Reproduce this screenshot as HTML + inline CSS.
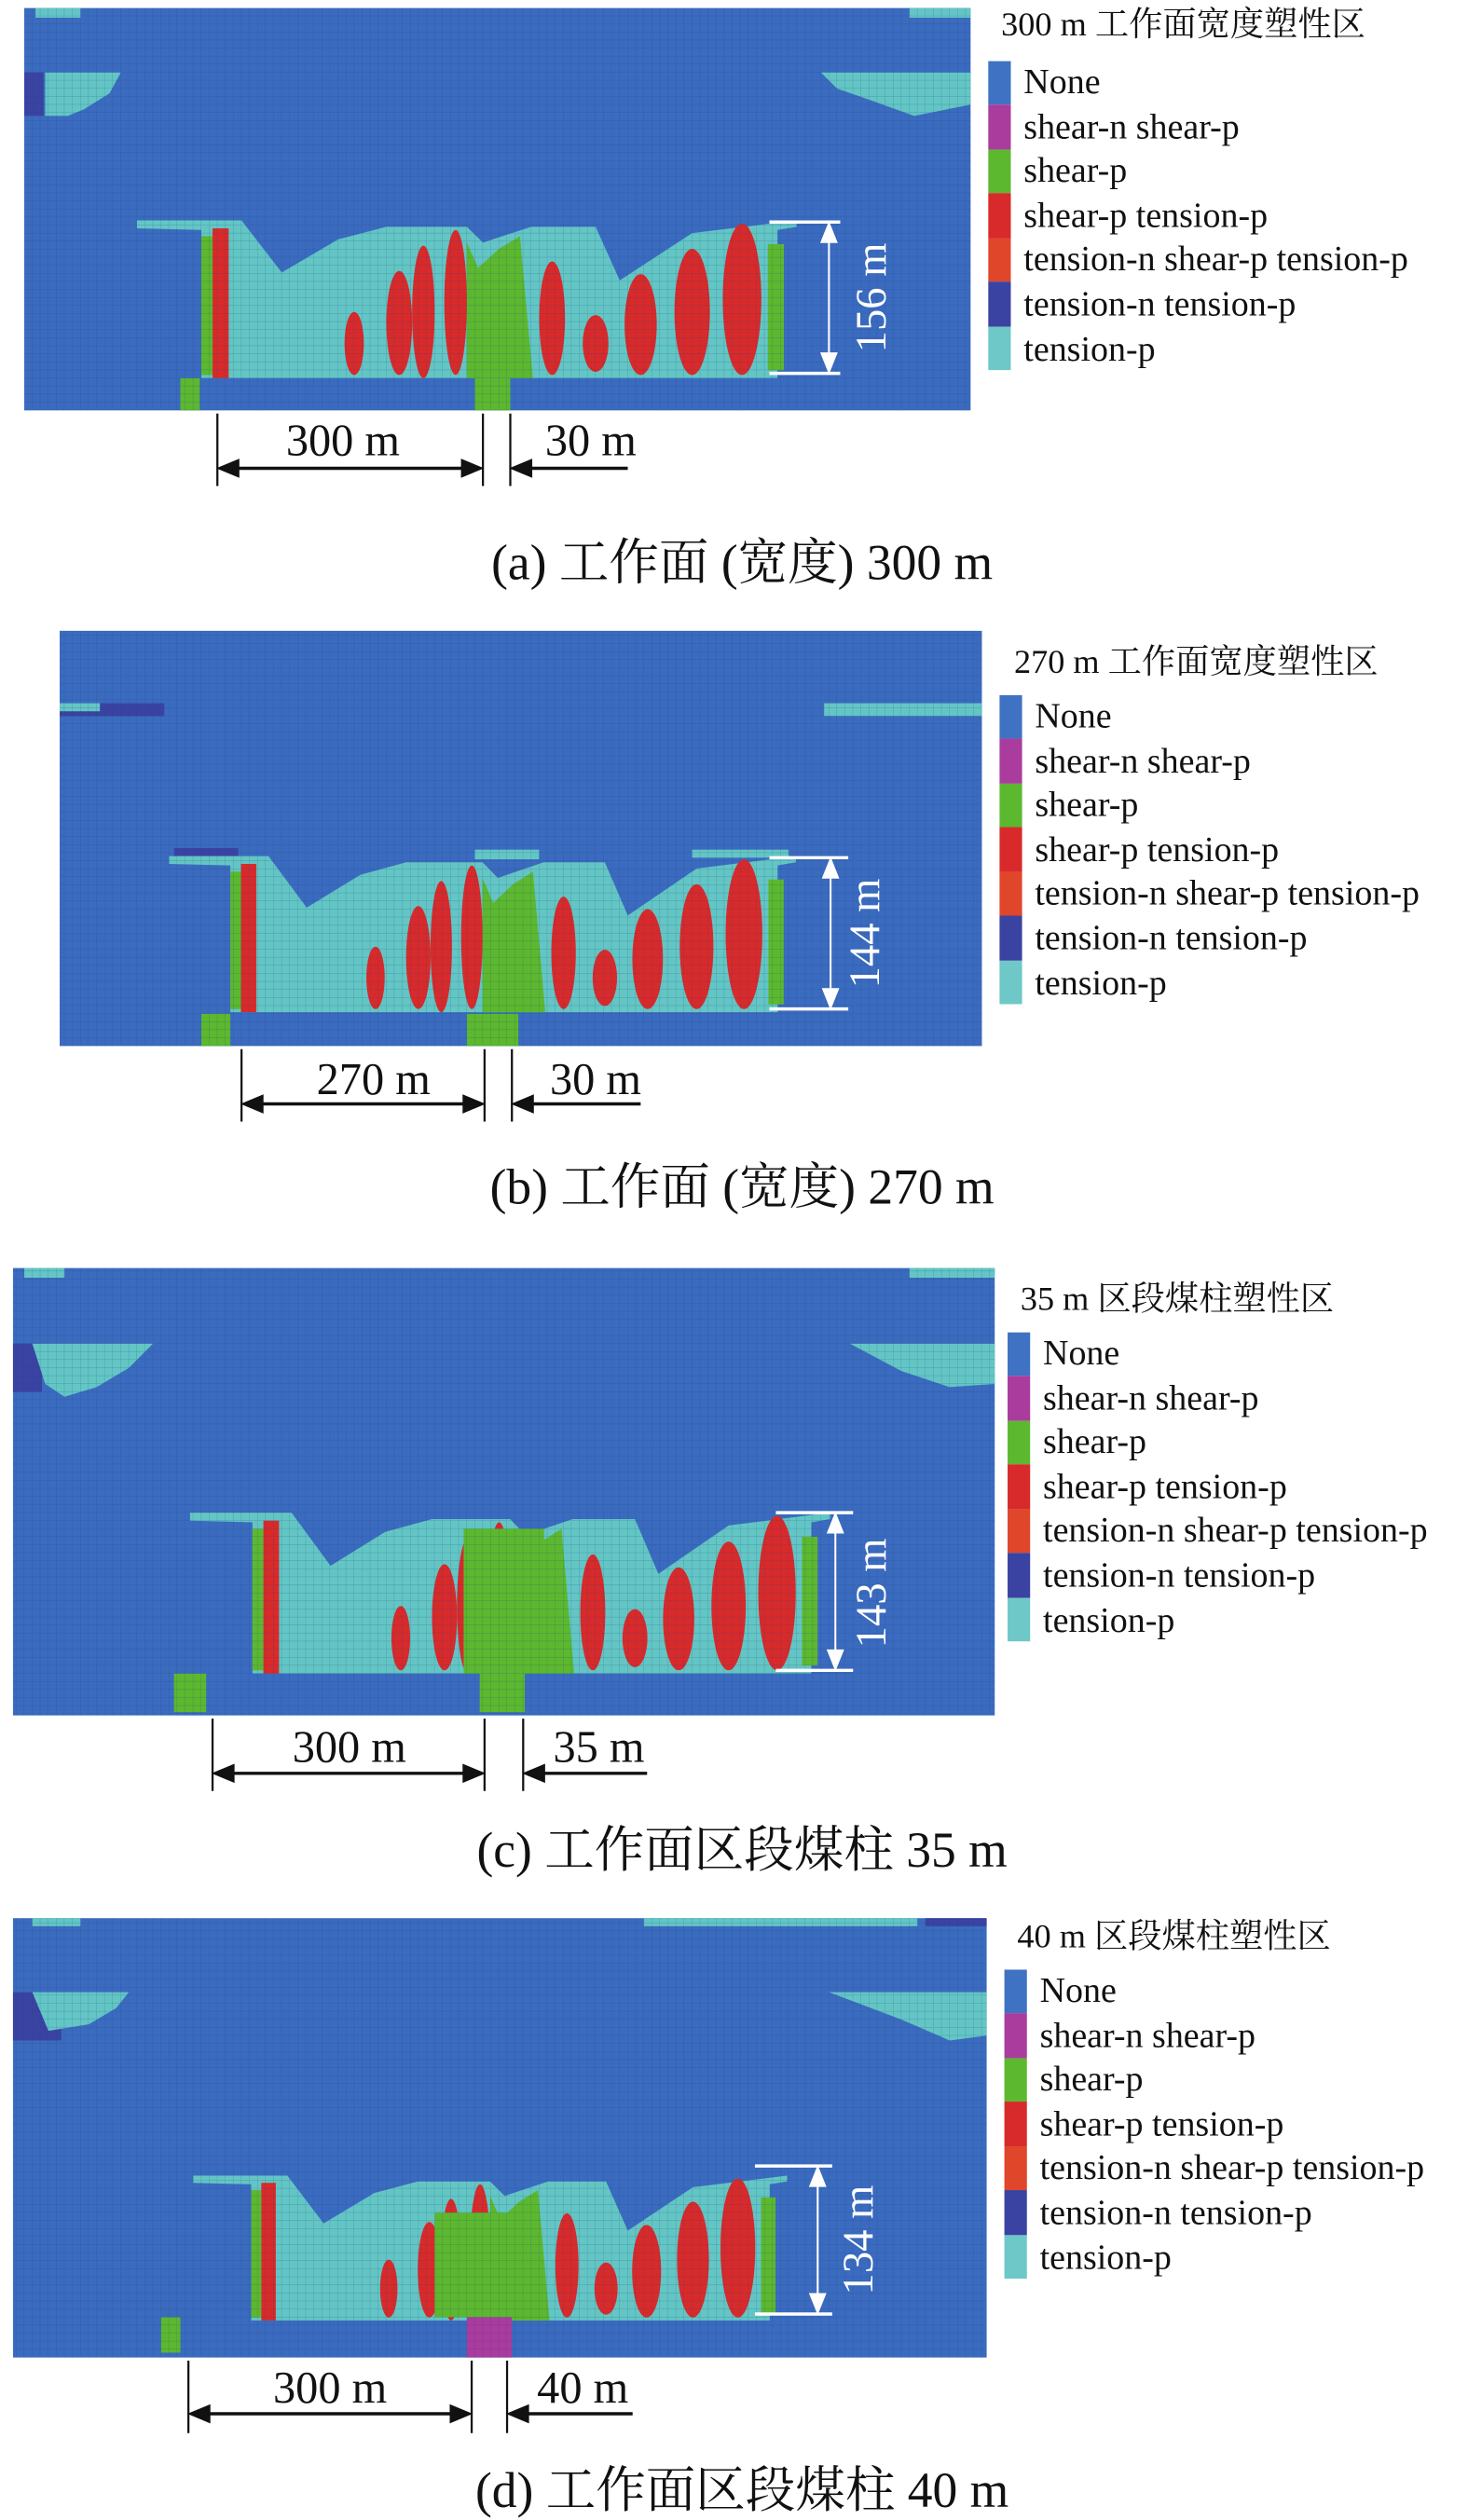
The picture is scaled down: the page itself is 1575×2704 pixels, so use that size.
<!DOCTYPE html>
<html><head><meta charset="utf-8"><style>
html,body{margin:0;padding:0;background:#fff;}
svg{display:block}
text{font-family:"Liberation Serif","Noto Serif CJK SC",serif;fill:#111}
</style></head><body>
<svg width="1575" height="2704" viewBox="0 0 912 1566" xmlns="http://www.w3.org/2000/svg">
<defs>
<pattern id="grid" width="5" height="5" patternUnits="userSpaceOnUse">
<path d="M5 0V5M0 5H5" stroke="#1e3f85" stroke-width="0.5" fill="none" opacity="0.35"/>
</pattern>
<g id="zone">
<polygon fill="#63c6c4" points="0,0 65,0 90,33 125,12 155,4 205,4 215,14 245,4 285,4 300,38 345,8 410,0 410,4 398,6 398,100 40,100 40,6 0,5"/>
<rect x="40" y="10" width="7" height="88" fill="#5cb82e"/>
<rect x="47" y="5" width="10" height="95" fill="#d82a2a"/>
<polygon fill="#5cb82e" points="205,14 212,30 225,18 238,10 246,100 205,100"/>
<ellipse cx="135" cy="78" rx="6" ry="20" fill="#d82a2a"/>
<ellipse cx="163" cy="65" rx="8" ry="33" fill="#d82a2a"/>
<ellipse cx="178" cy="58" rx="7" ry="42" fill="#d82a2a"/>
<ellipse cx="198" cy="52" rx="7" ry="46" fill="#d82a2a"/>
<ellipse cx="258" cy="62" rx="8" ry="36" fill="#d82a2a"/>
<ellipse cx="285" cy="78" rx="8" ry="18" fill="#d82a2a"/>
<ellipse cx="313" cy="66" rx="10" ry="32" fill="#d82a2a"/>
<ellipse cx="345" cy="58" rx="11" ry="40" fill="#d82a2a"/>
<ellipse cx="376" cy="50" rx="12" ry="48" fill="#d82a2a"/>
<rect x="392" y="15" width="10" height="80" fill="#5cb82e"/>
</g>
<g id="legend">
<rect x="0" y="0" width="14" height="27" fill="#3f72c2"/>
<rect x="0" y="27" width="14" height="28" fill="#aa3c9e"/>
<rect x="0" y="55" width="14" height="27" fill="#5cb82e"/>
<rect x="0" y="82" width="14" height="28" fill="#d82a2a"/>
<rect x="0" y="110" width="14" height="27" fill="#e0462a"/>
<rect x="0" y="137" width="14" height="28" fill="#3b43a2"/>
<rect x="0" y="165" width="14" height="27" fill="#6ec8c8"/>
<g font-size="22">
<text x="22" y="20">None</text>
<text x="22" y="48">shear-n shear-p</text>
<text x="22" y="75">shear-p</text>
<text x="22" y="103">shear-p tension-p</text>
<text x="22" y="130">tension-n shear-p tension-p</text>
<text x="22" y="158">tension-n tension-p</text>
<text x="22" y="186">tension-p</text>
</g>
</g>
</defs>

<!-- Panel a -->
<rect x="15" y="5" width="588" height="250" fill="#3a6bbf"/>
<rect x="22" y="5" width="28" height="6" fill="#63c6c4"/><rect x="565" y="5" width="38" height="6" fill="#63c6c4"/>
<rect x="15" y="45" width="12" height="27" fill="#3b43a2"/>
<polygon fill="#63c6c4" points="28,45 75,45 68,58 52,68 42,72 28,72"/>
<polygon fill="#63c6c4" points="510,45 603,45 603,65 568,72 540,62 520,55"/>
<use href="#zone" transform="translate(85,137) scale(1,0.98)"/>
<rect x="112" y="235" width="12" height="20" fill="#5cb82e"/><rect x="295" y="235" width="22" height="20" fill="#5cb82e"/>
<rect x="15" y="5" width="588" height="250" fill="url(#grid)"/>
<g stroke="#fff" stroke-width="2" fill="#fff">
<line x1="478" y1="138" x2="522" y2="138"/><line x1="478" y1="232" x2="522" y2="232"/>
<line x1="515" y1="142" x2="515" y2="228" stroke-width="1.2"/>
<polygon points="515,140 511,150 519,150"/><polygon points="515,230 511,220 519,220"/>
</g>
<text transform="translate(550,185) rotate(-90)" text-anchor="middle" font-size="27" style="fill:#fff">156 m</text>
<use href="#legend" x="614" y="38"/>
<text x="622" y="22" font-size="21">300 m 工作面宽度塑性区</text>
<g stroke="#111" stroke-width="1.3" fill="#111">
<line x1="135" y1="257" x2="135" y2="302"/><line x1="300" y1="257" x2="300" y2="302"/><line x1="317" y1="257" x2="317" y2="302"/>
<line x1="140" y1="291" x2="295" y2="291" stroke-width="2"/><polygon points="136,291 148,286 148,296"/><polygon points="299,291 287,286 287,296"/>
<line x1="325" y1="291" x2="390" y2="291" stroke-width="2"/><polygon points="318,291 330,286 330,296"/>
</g>
<text x="213" y="283" font-size="28" text-anchor="middle">300 m</text>
<text x="367" y="283" font-size="28" text-anchor="middle">30 m</text>
<text x="461" y="360" font-size="31" text-anchor="middle">(a) 工作面 (宽度) 300 m</text>

<!-- Panel b -->
<rect x="37" y="392" width="573" height="258" fill="#3a6bbf"/>
<rect x="37" y="437" width="65" height="8" fill="#3b43a2"/><rect x="37" y="437" width="25" height="5" fill="#63c6c4"/>
<rect x="512" y="437" width="98" height="8" fill="#63c6c4"/>
<rect x="108" y="527" width="40" height="5" fill="#3b43a2"/>
<rect x="295" y="528" width="40" height="6" fill="#63c6c4"/><rect x="430" y="528" width="60" height="5" fill="#63c6c4"/>
<use href="#zone" transform="translate(105,532) scale(0.95,0.97)"/>
<rect x="125" y="630" width="18" height="20" fill="#5cb82e"/><rect x="290" y="630" width="32" height="20" fill="#5cb82e"/>
<rect x="37" y="392" width="573" height="258" fill="url(#grid)"/>
<g stroke="#fff" stroke-width="2" fill="#fff">
<line x1="478" y1="533" x2="527" y2="533"/><line x1="478" y1="627" x2="527" y2="627"/>
<line x1="516" y1="537" x2="516" y2="623" stroke-width="1.2"/>
<polygon points="516,535 512,545 520,545"/><polygon points="516,625 512,615 520,615"/>
</g>
<text transform="translate(546,580) rotate(-90)" text-anchor="middle" font-size="27" style="fill:#fff">144 m</text>
<use href="#legend" x="621" y="432"/>
<text x="630" y="418" font-size="21">270 m 工作面宽度塑性区</text>
<g stroke="#111" stroke-width="1.3" fill="#111">
<line x1="150" y1="652" x2="150" y2="697"/><line x1="301" y1="652" x2="301" y2="697"/><line x1="318" y1="652" x2="318" y2="697"/>
<line x1="155" y1="686" x2="296" y2="686" stroke-width="2"/><polygon points="151,686 163,681 163,691"/><polygon points="300,686 288,681 288,691"/>
<line x1="326" y1="686" x2="398" y2="686" stroke-width="2"/><polygon points="319,686 331,681 331,691"/>
</g>
<text x="232" y="680" font-size="28" text-anchor="middle">270 m</text>
<text x="370" y="680" font-size="28" text-anchor="middle">30 m</text>
<text x="461" y="748" font-size="31" text-anchor="middle">(b) 工作面 (宽度) 270 m</text>

<!-- Panel c -->
<rect x="8" y="788" width="610" height="278" fill="#3a6bbf"/>
<rect x="15" y="788" width="25" height="6" fill="#63c6c4"/><rect x="565" y="788" width="53" height="6" fill="#63c6c4"/>
<rect x="8" y="835" width="18" height="30" fill="#3b43a2"/>
<polygon fill="#63c6c4" points="20,835 95,835 80,850 60,862 40,868 28,860"/>
<polygon fill="#63c6c4" points="528,835 618,835 618,860 590,862 560,852"/>
<use href="#zone" transform="translate(118,940) scale(0.97,1)"/>
<rect x="288" y="950" width="50" height="90" fill="#5cb82e"/>
<rect x="108" y="1040" width="20" height="24" fill="#5cb82e"/><rect x="298" y="1040" width="28" height="24" fill="#5cb82e"/>
<rect x="8" y="788" width="610" height="278" fill="url(#grid)"/>
<g stroke="#fff" stroke-width="2" fill="#fff">
<line x1="482" y1="940" x2="530" y2="940"/><line x1="482" y1="1038" x2="530" y2="1038"/>
<line x1="519" y1="944" x2="519" y2="1034" stroke-width="1.2"/>
<polygon points="519,942 515,952 523,952"/><polygon points="519,1036 515,1026 523,1026"/>
</g>
<text transform="translate(550,990) rotate(-90)" text-anchor="middle" font-size="27" style="fill:#fff">143 m</text>
<use href="#legend" x="626" y="828"/>
<text x="634" y="814" font-size="21">35 m 区段煤柱塑性区</text>
<g stroke="#111" stroke-width="1.3" fill="#111">
<line x1="132" y1="1068" x2="132" y2="1113"/><line x1="301" y1="1068" x2="301" y2="1113"/><line x1="325" y1="1068" x2="325" y2="1113"/>
<line x1="137" y1="1102" x2="296" y2="1102" stroke-width="2"/><polygon points="133,1102 145,1097 145,1107"/><polygon points="300,1102 288,1097 288,1107"/>
<line x1="333" y1="1102" x2="402" y2="1102" stroke-width="2"/><polygon points="326,1102 338,1097 338,1107"/>
</g>
<text x="217" y="1095" font-size="28" text-anchor="middle">300 m</text>
<text x="372" y="1095" font-size="28" text-anchor="middle">35 m</text>
<text x="461" y="1160" font-size="31" text-anchor="middle">(c) 工作面区段煤柱 35 m</text>

<!-- Panel d -->
<rect x="8" y="1192" width="605" height="273" fill="#3a6bbf"/>
<rect x="20" y="1192" width="30" height="5" fill="#63c6c4"/><rect x="400" y="1192" width="170" height="5" fill="#63c6c4"/><rect x="575" y="1192" width="38" height="5" fill="#3b43a2"/>
<rect x="8" y="1238" width="30" height="30" fill="#3b43a2"/>
<polygon fill="#63c6c4" points="20,1238 80,1238 72,1248 55,1258 30,1262 25,1250"/>
<polygon fill="#63c6c4" points="515,1238 613,1238 613,1265 590,1268 560,1255"/>
<use href="#zone" transform="translate(120,1352) scale(0.9,0.9)"/>
<rect x="270" y="1375" width="60" height="65" fill="#5cb82e"/>
<rect x="100" y="1440" width="12" height="22" fill="#5cb82e"/><rect x="290" y="1440" width="28" height="25" fill="#aa3c9e"/>
<rect x="8" y="1192" width="605" height="273" fill="url(#grid)"/>
<g stroke="#fff" stroke-width="2" fill="#fff">
<line x1="469" y1="1346" x2="517" y2="1346"/><line x1="469" y1="1438" x2="517" y2="1438"/>
<line x1="508" y1="1350" x2="508" y2="1434" stroke-width="1.2"/>
<polygon points="508,1348 504,1358 512,1358"/><polygon points="508,1436 504,1426 512,1426"/>
</g>
<text transform="translate(542,1392) rotate(-90)" text-anchor="middle" font-size="27" style="fill:#fff">134 m</text>
<use href="#legend" x="624" y="1224"/>
<text x="632" y="1210" font-size="21">40 m 区段煤柱塑性区</text>
<g stroke="#111" stroke-width="1.3" fill="#111">
<line x1="117" y1="1467" x2="117" y2="1512"/><line x1="293" y1="1467" x2="293" y2="1512"/><line x1="315" y1="1467" x2="315" y2="1512"/>
<line x1="122" y1="1500" x2="288" y2="1500" stroke-width="2"/><polygon points="118,1500 130,1495 130,1505"/><polygon points="292,1500 280,1495 280,1505"/>
<line x1="323" y1="1500" x2="393" y2="1500" stroke-width="2"/><polygon points="316,1500 328,1495 328,1505"/>
</g>
<text x="205" y="1493" font-size="28" text-anchor="middle">300 m</text>
<text x="362" y="1493" font-size="28" text-anchor="middle">40 m</text>
<text x="461" y="1558" font-size="31" text-anchor="middle">(d) 工作面区段煤柱 40 m</text>
</svg>
</body></html>
